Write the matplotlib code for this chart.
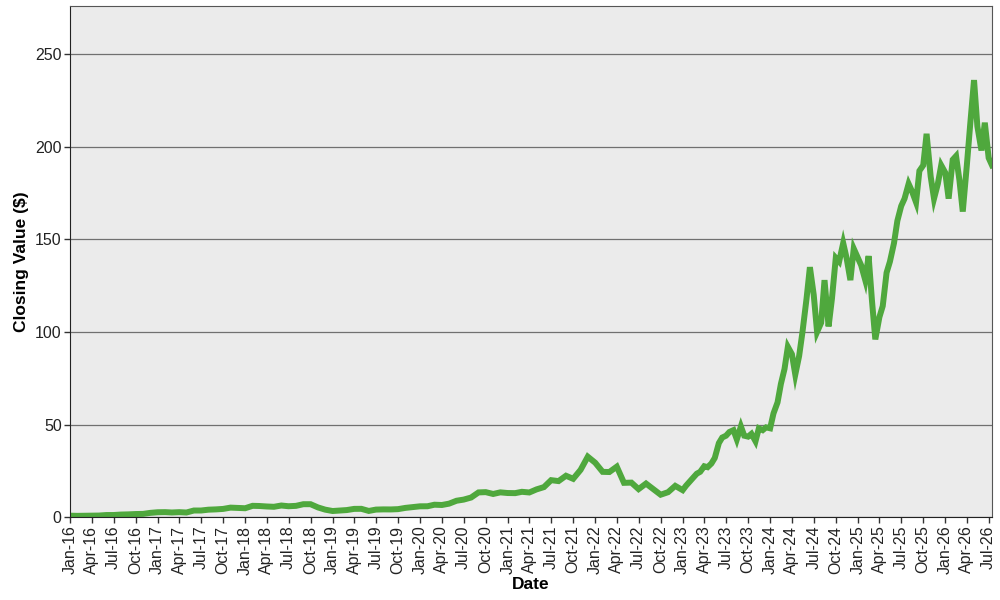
import matplotlib as mpl
mpl.use("Agg")
import matplotlib.pyplot as plt
import matplotlib.dates as mdates
import numpy as np
import pandas as pd

# month-start closes, Jan 2016 - Dec 2022
monthly_start = "2016-01-01"
monthly_values = [
    0.82, 0.73, 0.78, 0.89, 0.89, 1.17, 1.18, 1.43, 1.53, 1.71, 1.78, 2.34,
    2.67, 2.73, 2.54, 2.72, 2.53, 3.61, 3.61, 4.06, 4.22, 4.47, 5.17, 5.02,
    4.84, 6.14, 6.05, 5.79, 5.62, 6.31, 5.92, 6.12, 7.02, 7.02, 5.27, 4.08,
    3.34, 3.59, 3.85, 4.49, 4.52, 3.38, 4.11, 4.22, 4.19, 4.35, 5.03, 5.43,
    5.88, 5.91, 6.74, 6.59, 7.31, 8.88, 9.50, 10.62, 13.38, 13.53, 12.54, 13.41,
    13.05, 12.99, 13.71, 13.35, 15.01, 16.25, 20.00, 19.49, 22.38, 20.72, 25.57, 32.67,
    29.41, 24.49, 24.39, 27.29, 18.55, 18.67, 15.16, 18.16, 15.09, 12.14, 13.50, 16.92,
]

# semi-monthly closes (1st and 15th), Jan 2023 - Jul 2026
semi_start = "2023-01-01"
semi_values = [
    # 2023
    14.6, 17.0, 19.5, 21.5, 23.5, 24.5, 27.5, 27.0, 29.0, 32.0, 40.0, 43.0,
    44.0, 46.0, 47.0, 42.0, 49.0, 44.0, 43.5, 45.0, 41.0, 48.0, 47.0, 48.5,
    # 2024
    48.0, 56.0, 62.0, 72.0, 80.0, 92.0, 88.0, 77.0, 87.0, 100.0, 118.0, 135.0,
    120.0, 100.0, 105.0, 128.0, 103.0, 118.0, 140.0, 138.0, 148.0, 140.0, 128.0, 145.0,
    # 2025
    140.0, 136.0, 128.0, 141.0, 117.0, 96.0, 108.0, 114.0, 132.0, 138.0, 148.0, 160.0,
    168.0, 172.0, 180.0, 176.0, 170.0, 187.0, 190.0, 207.0, 184.0, 172.0, 180.0, 190.0,
    # 2026
    186.0, 172.0, 193.0, 195.0, 182.0, 165.0, 190.0, 212.0, 236.0, 211.0, 198.0, 213.0,
    194.0, 190.0,
]

y_ticks = [0, 50, 100, 150, 200, 250]
x_label = "Date"
y_label = "Closing Value ($)"

line_color = "#4fa83d"
plt.rcParams["font.family"] = ["Liberation Sans", "DejaVu Sans"]

d1 = pd.date_range(monthly_start, periods=len(monthly_values), freq="MS")
d2 = pd.date_range(semi_start, periods=len(semi_values), freq="SMS")
dates = d1.append(d2)
values = np.array(monthly_values + semi_values)

fig = plt.figure(figsize=(10, 6), dpi=100)
ax = fig.add_axes([0.07, 0.138, 0.922, 0.852])
ax.set_facecolor("#ebebeb")

ax.plot(dates, values, color=line_color, linewidth=4.3, solid_joinstyle="miter")

ax.set_ylim(0, 276)
ax.set_xlim(pd.Timestamp("2016-01-01"), dates[-1])
ax.set_yticks(y_ticks)
ax.yaxis.grid(True, color="#707070", linewidth=0.9)
ax.set_axisbelow(True)

ax.xaxis.set_major_locator(mdates.MonthLocator(bymonth=[1, 4, 7, 10]))
ax.xaxis.set_major_formatter(mdates.DateFormatter("%b-%y"))
plt.setp(ax.get_xticklabels(), rotation=90)
ax.tick_params(axis="both", labelsize=11.5, length=4, width=1, color="#333333",
               labelcolor="#222222", pad=2)

for side in ["left", "bottom"]:
    ax.spines[side].set_color("#222222")
for side in ["top", "right"]:
    ax.spines[side].set_color("#555555")

ax.set_xlabel(x_label, fontsize=12.5, fontweight="bold", labelpad=2)
ax.set_ylabel(y_label, fontsize=12.5, fontweight="bold", labelpad=4)

fig.savefig("out.png", dpi=100)
plt.close(fig)
